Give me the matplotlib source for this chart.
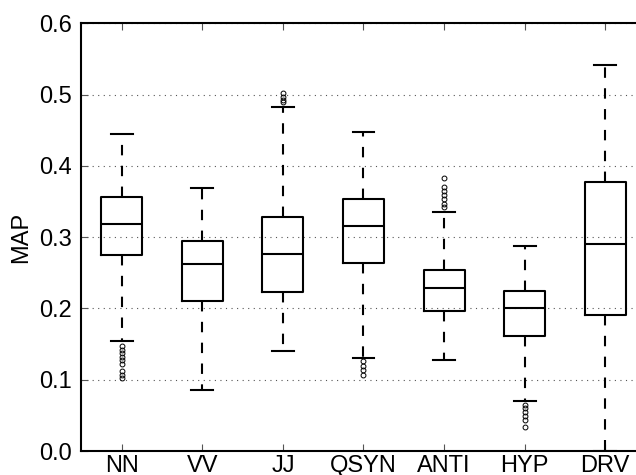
import matplotlib
matplotlib.use('Agg')
import matplotlib.pyplot as plt

# data
labels = ['NN', 'VV', 'JJ', 'QSYN', 'ANTI', 'HYP', 'DRV']
whishi = [0.445, 0.369, 0.482, 0.447, 0.336, 0.287, 0.542]
q3 = [0.357, 0.295, 0.328, 0.354, 0.254, 0.225, 0.377]
med = [0.318, 0.262, 0.276, 0.315, 0.229, 0.200, 0.290]
q1 = [0.275, 0.211, 0.223, 0.264, 0.197, 0.161, 0.191]
whislo = [0.155, 0.085, 0.140, 0.131, 0.127, 0.070, 0.000]
fliers = [
    [0.148, 0.142, 0.137, 0.132, 0.127, 0.122, 0.112, 0.107, 0.103],
    [],
    [0.502, 0.497, 0.493, 0.489],
    [0.126, 0.119, 0.113, 0.107],
    [0.383, 0.371, 0.365, 0.359, 0.354, 0.347, 0.342],
    [0.065, 0.060, 0.055, 0.049, 0.043, 0.033],
    [],
]

plt.rcParams['font.family'] = ['Liberation Sans', 'DejaVu Sans']

fig = plt.figure(figsize=(6.36, 4.75), dpi=100)
ax = fig.add_axes([0.128, 0.0505, 0.887, 0.9004])

stats = []
for i in range(len(labels)):
    stats.append({'label': labels[i], 'whishi': whishi[i], 'q3': q3[i],
                  'med': med[i], 'q1': q1[i], 'whislo': whislo[i],
                  'fliers': fliers[i]})

ax.bxp(stats, widths=0.51, capwidths=0.27,
       boxprops=dict(color='black', linewidth=1.5),
       medianprops=dict(color='black', linewidth=1.5),
       whiskerprops=dict(color='black', linewidth=1.5, linestyle=(0, (5, 5))),
       capprops=dict(color='black', linewidth=1.5),
       flierprops=dict(marker='o', markersize=3.5, markerfacecolor='none',
                       markeredgecolor='black', markeredgewidth=0.7))

ax.set_xlim(0.5, 7.5)
ax.set_ylim(0, 0.6)
ax.set_yticks([0, 0.1, 0.2, 0.3, 0.4, 0.5, 0.6])
ax.set_yticklabels(['0.0', '0.1', '0.2', '0.3', '0.4', '0.5', '0.6'])
ax.yaxis.grid(True, linestyle=(0, (1, 4)), color='#555555', linewidth=0.8)
ax.set_axisbelow(True)
ax.tick_params(direction='in', length=5, width=0.8, color='#555555',
               labelsize=17, top=True, right=True)
ax.tick_params(axis='y', pad=7)
ax.tick_params(axis='x', pad=3)
for s in ax.spines.values():
    s.set_linewidth(1.5)
# the reference cuts the x labels at the bottom edge too
ax.set_ylabel('MAP', fontsize=17, labelpad=5)

plt.savefig('out.png', dpi=100)
